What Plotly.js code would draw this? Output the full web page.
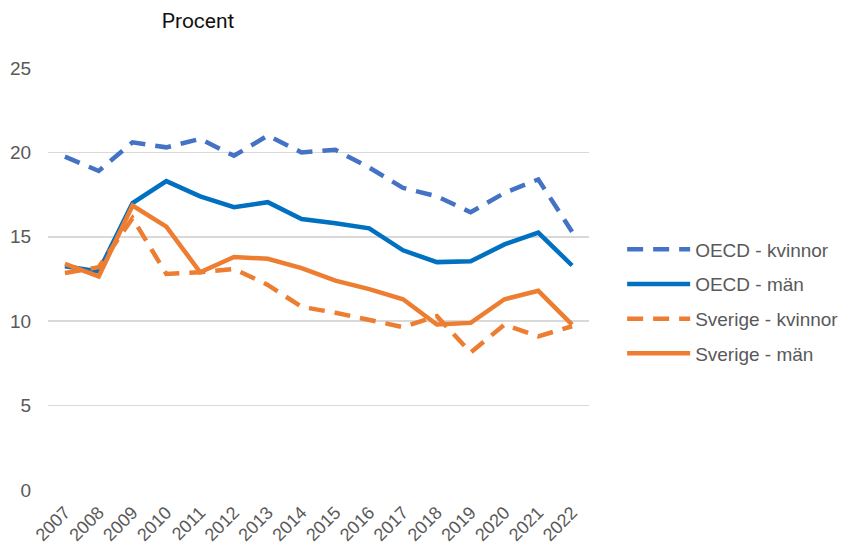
<!DOCTYPE html>
<html>
<head>
<meta charset="utf-8">
<script src="https://cdn.plot.ly/plotly-3.0.1.min.js"></script>
<style>html,body{margin:0;padding:0;background:#fff;}#chart{width:843px;height:548px;}</style>
</head>
<body>
<div id="chart"></div>
<script>
const years = ['2007','2008','2009','2010','2011','2012','2013','2014','2015','2016','2017','2018','2019','2020','2021','2022'];
const oecdKvinnor = [19.75, 18.9, 20.6, 20.3, 20.8, 19.8, 21.0, 20.0, 20.15, 19.1, 17.9, 17.4, 16.45, 17.6, 18.4, 15.3];
const oecdMan = [13.25, 12.95, 17.0, 18.3, 17.4, 16.75, 17.05, 16.05, 15.8, 15.5, 14.2, 13.5, 13.55, 14.55, 15.25, 13.3];
const sverigeKvinnor = [12.85, 13.2, 16.1, 12.8, 12.9, 13.1, 12.15, 10.85, 10.5, 10.05, 9.65, 10.3, 8.15, 9.8, 9.1, 9.7];
const sverigeMan = [13.4, 12.65, 16.85, 15.6, 12.9, 13.8, 13.7, 13.15, 12.4, 11.9, 11.3, 9.8, 9.9, 11.3, 11.8, 9.8];
const seriesNames = ['OECD - kvinnor', 'OECD - män', 'Sverige - kvinnor', 'Sverige - män'];

const mk = (y, name, color, dash, g) => ({
  x: years, y: y, name: name, type: 'scatter', mode: 'lines',
  legendgroup: g,
  line: {color: color, width: 4.5, dash: dash}
});

const data = [
  mk(oecdKvinnor, seriesNames[0], '#4472C4', '16px,10px', 'a'),
  mk(oecdMan, seriesNames[1], '#0070C0', 'solid', 'b'),
  mk(sverigeKvinnor, seriesNames[2], '#ED7D31', '16px,10px', 'c'),
  mk(sverigeMan, seriesNames[3], '#ED7D31', 'solid', 'd')
];

const layout = {
  width: 843, height: 548,
  margin: {l: 48, r: 254, t: 68, b: 58},
  paper_bgcolor: '#fff', plot_bgcolor: '#fff',
  font: {family: '"Liberation Sans", Arial, sans-serif', size: 19, color: '#595959'},
  title: {text: 'Procent', font: {family: 'Roboto, sans-serif', size: 21, color: '#111'},
          xref: 'container', yref: 'container', x: 0.235, xanchor: 'center', y: 0.962, yanchor: 'middle'},
  showlegend: true,
  legend: {xref: 'container', yref: 'container', x: 0.738, xanchor: 'left', y: 0.45, yanchor: 'middle', traceorder: 'grouped',
           tracegroupgap: 7, itemwidth: 63, font: {size: 19, color: '#595959'}},
  xaxis: {type: 'category', range: [-0.5, 15.5], tickangle: -45, showgrid: false, zeroline: false, showline: false,
          ticks: 'outside', ticklen: 4, tickcolor: 'rgba(0,0,0,0)', tickfont: {size: 18, color: '#595959'}, fixedrange: true},
  yaxis: {range: [0, 25], dtick: 5, tick0: 0, showgrid: true, gridcolor: '#D9D9D9', gridwidth: 1.5,
          zeroline: false, showline: false, ticks: 'outside', ticklen: 12, tickcolor: 'rgba(0,0,0,0)',
          tickfont: {size: 19, color: '#595959'}, fixedrange: true}
};

Plotly.newPlot('chart', data, layout, {displayModeBar: false, staticPlot: true});
</script>
</body>
</html>
